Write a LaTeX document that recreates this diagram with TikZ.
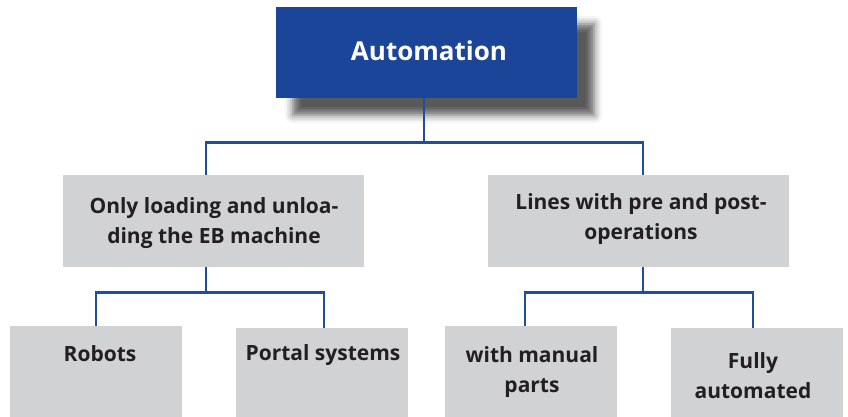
\documentclass[tikz,border=0pt]{standalone}
\usepackage{fontspec}
\setmainfont{Open Sans}
\usetikzlibrary{shadows.blur}
\definecolor{topblue}{RGB}{26,69,153}
\definecolor{lineblue}{RGB}{31,78,160}
\definecolor{boxgray}{RGB}{209,210,212}
\definecolor{txt}{RGB}{35,31,32}
\tikzset{
  topbox/.style={fill=topblue, minimum width=301pt, minimum height=91pt, inner sep=0pt,
    blur shadow={shadow xshift=17pt, shadow yshift=-17pt, shadow blur radius=8pt, shadow opacity=65}},
  graybox/.style={fill=boxgray, inner sep=0pt},
  lbl/.style={text=txt, font=\fontsize{21}{30}\selectfont\bfseries, align=center, inner sep=0pt},
  conn/.style={draw=lineblue, line width=2.8pt}
}
\begin{document}
\begin{tikzpicture}[x=1pt,y=-1pt]
\useasboundingbox (0,0) rectangle (848,417);
\clip (0,0) rectangle (848,417);
\node[topbox] (top) at (426.5,52.5) {};
\node[text=white, font=\fontsize{26}{34}\selectfont\bfseries, inner sep=0pt] (topT) at (429,51) {Automation};
\node[graybox, minimum width=301pt, minimum height=92pt] (ml) at (213.5,221) {};
\node[graybox, minimum width=301pt, minimum height=92pt] (mr) at (638.5,221) {};
\node[lbl] (mlT) at (214,223) {Only loading and unloa-\\ding the EB machine};
\node[lbl] (mrT) at (641,219) {Lines with pre and post-\\operations};
\node[graybox, minimum width=172pt, minimum height=110pt, anchor=north] (rob) at (96,326) {};
\node[graybox, minimum width=172pt, minimum height=110pt, anchor=north] (por) at (322,328) {};
\node[graybox, minimum width=172pt, minimum height=110pt, anchor=north] (man) at (531,326) {};
\node[graybox, minimum width=172pt, minimum height=110pt, anchor=north] (ful) at (757,328) {};
\node[lbl] (robT) at (100,354) {Robots};
\node[lbl] (porT) at (323,355) {Portal systems};
\node[lbl] (manT) at (532,372) {with manual\\parts};
\node[lbl] (fulT) at (753,376) {Fully\\automated};
\coordinate (j1) at ([xshift=-2.5pt]top.south);
\coordinate (j2) at ([xshift=-7.5pt]ml.south);
\coordinate (j3) at ([xshift=4.5pt]mr.south);
\draw[conn] (j1) -- ++(0,44) -| ([xshift=-7.5pt]ml.north);
\draw[conn] (j1) -- ++(0,44) -| ([xshift=4.5pt]mr.north);
\draw[conn] (j2) -- ++(0,25) -| (rob.north);
\draw[conn] (j2) -- ++(0,25) -| ([xshift=2pt]por.north);
\draw[conn] (j3) -- ++(0,25) -| ([xshift=-6pt]man.north);
\draw[conn] (j3) -- ++(0,25) -| ([xshift=-4pt]ful.north);
\end{tikzpicture}
\end{document}
